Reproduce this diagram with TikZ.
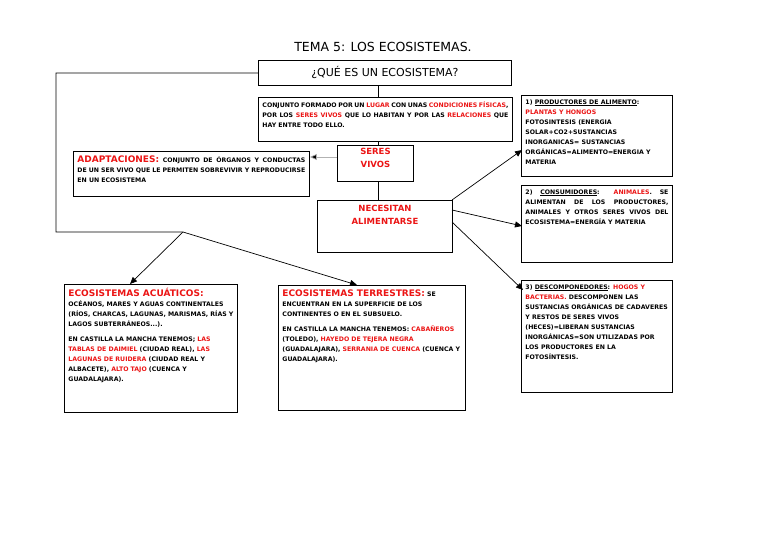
\documentclass[tikz,border=0pt]{standalone}
\usepackage{fontspec}
\setmainfont{DejaVu Sans}
\usetikzlibrary{arrows.meta}
\definecolor{rd}{RGB}{235,20,20}
\newcommand{\R}[1]{\textcolor{rd}{#1}}
\newcommand{\bx}[3]{\parbox[c][#2pt][t]{#1pt}{\fontsize{6.2}{10}\selectfont\bfseries\hyphenpenalty=10000\exhyphenpenalty=10000 #3}}
\begin{document}
\begin{tikzpicture}[x=1pt,y=-1pt,
  box/.style={draw,line width=0.9pt,anchor=north west,inner sep=4pt},
  ln/.style={line width=0.7pt},
  arr/.style={ln,-{Triangle[length=7pt,width=6pt]}}]
\useasboundingbox (0,0) rectangle (768,543);
\node[font=\fontsize{12.5}{14}\selectfont] (title) at (383,47) {TEMA 5: LOS ECOSISTEMAS.};
\node[box,minimum width=253pt,minimum height=25pt,anchor=north west] (que) at (258,60) {};
\node[font=\fontsize{11}{13}\selectfont] (quet) at (que.center) {¿QUÉ ES UN ECOSISTEMA?};
\node[box] (conj) at (258,97) {\bx{246}{36}{CONJUNTO FORMADO POR UN \R{LUGAR} CON UNAS \R{CONDICIONES FÍSICAS}, POR LOS \R{SERES VIVOS} QUE LO HABITAN Y POR LAS \R{RELACIONES} QUE HAY ENTRE TODO ELLO.}};
\node[box,minimum width=76pt,minimum height=36pt] (seres) at (337,145) {};
\node[align=center,anchor=north,text=rd,font=\fontsize{8.5}{13}\selectfont\bfseries] (serest) at (seres.north) {SERES\\VIVOS};
\node[box] (adap) at (73,151) {\bx{228}{37}{{\fontsize{9}{10}\selectfont\R{ADAPTACIONES:}} CONJUNTO DE ÓRGANOS Y CONDUCTAS DE UN SER VIVO QUE LE PERMITEN SOBREVIVIR Y REPRODUCIRSE EN UN ECOSISTEMA}};
\node[box,minimum width=135pt,minimum height=52pt] (nec) at (317,200) {};
\node[align=center,anchor=north,text=rd,font=\fontsize{8.5}{13}\selectfont\bfseries] (nect) at ([yshift=-2pt]nec.north) {NECESITAN\\ALIMENTARSE};
\node[box] (prod) at (521,95) {\bx{143}{73}{\raggedright 1) \underline{PRODUCTORES DE ALIMENTO}: \R{PLANTAS Y HONGOS}\\FOTOSINTESIS (ENERGIA SOLAR+CO2+SUSTANCIAS INORGANICAS= SUSTANCIAS ORGÁNICAS=ALIMENTO=ENERGIA Y MATERIA}};
\node[box] (cons) at (521,185) {\bx{143}{69}{2) \underline{CONSUMIDORES}: \R{ANIMALES}. SE ALIMENTAN DE LOS PRODUCTORES, ANIMALES Y OTROS SERES VIVOS DEL ECOSISTEMA=ENERGÍA Y MATERIA}};
\node[box] (desc) at (521,280) {\bx{143}{104}{\raggedright 3) \underline{DESCOMPONEDORES}: \R{HOGOS Y BACTERIAS.} DESCOMPONEN LAS SUSTANCIAS ORGÁNICAS DE CADAVERES Y RESTOS DE SERES VIVOS (HECES)=LIBERAN SUSTANCIAS INORGÁNICAS=SON UTILIZADAS POR LOS PRODUCTORES EN LA FOTOSÍNTESIS.}};
\node[box] (acua) at (64,284) {\bx{165}{120}{\raggedright{\fontsize{9}{11}\selectfont\R{ECOSISTEMAS ACUÁTICOS:}}\\OCÉANOS, MARES Y AGUAS CONTINENTALES (RÍOS, CHARCAS, LAGUNAS, MARISMAS, RÍAS Y LAGOS SUBTERRÁNEOS...).\\[5pt]EN CASTILLA LA MANCHA TENEMOS; \R{LAS TABLAS DE DAIMIEL} (CIUDAD REAL), \R{LAS LAGUNAS DE RUIDERA} (CIUDAD REAL Y ALBACETE), \R{ALTO TAJO} (CUENCA Y GUADALAJARA).}};
\node[box] (terr) at (278,285) {\bx{179}{117}{\raggedright{\fontsize{9}{11}\selectfont\R{ECOSISTEMAS TERRESTRES:}} SE ENCUENTRAN EN LA SUPERFICIE DE LOS CONTINENTES O EN EL SUBSUELO.\\[5pt]EN CASTILLA LA MANCHA TENEMOS: \R{CABAÑEROS} (TOLEDO), \R{HAYEDO DE TEJERA NEGRA} (GUADALAJARA), \R{SERRANIA DE CUENCA} (CUENCA Y GUADALAJARA).}};
\coordinate (c1) at (56,73);
\coordinate (c2) at (56,232);
\coordinate (c3) at (183,232);
\draw[ln] (que.west) -- (c1) -- (c2) -- (c3);
\draw[arr] (c3) -- (130,284);
\draw[arr] (c3) -- (357,285);
\draw[ln] (que.south -| 378,0) -- (conj.north -| 378,0);
\draw[ln] (conj.south -| 378,0) -- (seres.north -| 378,0);
\draw[ln] (seres.south -| 378,0) -- (nec.north -| 378,0);
\draw[arr,gray!60,-{Triangle[length=7pt,width=6pt,fill=black]}] (seres.west |- 0,157) -- (adap.east |- 0,157);
\draw[arr] (452,200) -- (522,150);
\draw[arr] (452,210) -- (522,226);
\draw[arr] (452,222) -- (523,290);
\end{tikzpicture}
\end{document}
